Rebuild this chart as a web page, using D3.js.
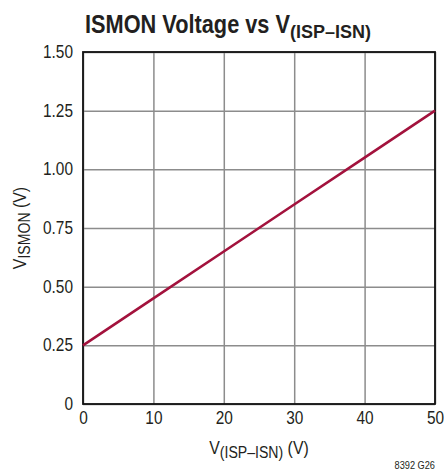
<!DOCTYPE html>
<html>
<head>
<meta charset="utf-8">
<script src="https://cdn.jsdelivr.net/npm/d3@7"></script>
<style>
  body { margin: 0; background: #fff; }
  svg { display: block; font-family: "Liberation Sans", Arial, sans-serif; }
  .tick text { fill: #231f20; }
</style>
</head>
<body>
<svg id="chart" width="444" height="472"></svg>
<script>
// V(ISP-ISN) in volts vs ISMON voltage
var vDiff = [0, 10, 20, 30, 40, 50],
    vIsmon = [0.25, 0.45, 0.65, 0.85, 1.05, 1.25],
    xTicks = [0, 10, 20, 30, 40, 50],
    yTicks = [0, 0.25, 0.5, 0.75, 1.0, 1.25, 1.5];

var svg = d3.select('#chart'),
    margin = {top: 52, right: 9, bottom: 68, left: 83},
    width = 444 - margin.left - margin.right,
    height = 472 - margin.top - margin.bottom,
    g = svg.append('g').attr('transform', 'translate(' + margin.left + ',' + margin.top + ')');

// squeeze text sideways a bit, the original uses a narrow face
function condense(sel, k) {
    sel.each(function () {
        var len = this.getComputedTextLength();
        d3.select(this).attr('textLength', len * k).attr('lengthAdjust', 'spacingAndGlyphs');
    });
}

var x = d3.scaleLinear().domain([0, 50]).range([0, width]),
    y = d3.scaleLinear().domain([0, 1.5]).range([height, 0]);

// grid lines come from the axes themselves
var xAxis = g.append('g')
    .attr('transform', 'translate(0,' + height + ')')
    .call(d3.axisBottom(x).tickValues(xTicks).tickSize(-height).tickPadding(8)
        .tickFormat(d3.format('d')));

var yAxis = g.append('g')
    .call(d3.axisLeft(y).tickValues(yTicks).tickSize(-width).tickPadding(10)
        .tickFormat(function (d) { return d === 0 ? '0' : d3.format('.2f')(d); }));

[xAxis, yAxis].forEach(function (a) {
    a.select('.domain').remove();
    a.selectAll('.tick line').attr('stroke', '#8c8c8c').attr('stroke-width', 1.5);
    a.selectAll('.tick text').attr('font-size', 17.5).attr('font-family', null);
    condense(a.selectAll('.tick text'), 0.88);
});

g.append('rect')
    .attr('width', width)
    .attr('height', height)
    .attr('fill', 'none')
    .attr('stroke', '#111')
    .attr('stroke-width', 1.8);

g.append('path')
    .datum(d3.zip(vDiff, vIsmon))
    .attr('fill', 'none')
    .attr('stroke', '#a3123d')
    .attr('stroke-width', 2.6)
    .attr('d', d3.line().x(function (d) { return x(d[0]); }).y(function (d) { return y(d[1]); }));

// title
var title = svg.append('text')
    .attr('x', 85)
    .attr('y', 33)
    .attr('font-weight', 'bold')
    .attr('font-size', 26)
    .attr('fill', '#231f20');
title.append('tspan').text('ISMON Voltage vs V')
    .attr('textLength', 205).attr('lengthAdjust', 'spacingAndGlyphs');
title.append('tspan').attr('font-size', 18).attr('dy', 5).text('(ISP–ISN)')
    .attr('textLength', 81).attr('lengthAdjust', 'spacingAndGlyphs');

// x axis title
var xt = svg.append('text')
    .attr('x', margin.left + width / 2)
    .attr('y', 454)
    .attr('text-anchor', 'middle')
    .attr('font-size', 18)
    .attr('fill', '#231f20');
xt.append('tspan').text('V');
xt.append('tspan').attr('font-size', 16).attr('dy', 4).text('(ISP–ISN)');
xt.append('tspan').attr('dy', -4).text(' (V)');
condense(xt.selectAll('tspan'), 0.88);

// y axis title
var yt = svg.append('text')
    .attr('transform', 'translate(26,' + (margin.top + height / 2) + ') rotate(-90)')
    .attr('text-anchor', 'middle')
    .attr('font-size', 18)
    .attr('fill', '#231f20');
yt.append('tspan').text('V');
yt.append('tspan').attr('font-size', 16).attr('dy', 4).text('ISMON');
yt.append('tspan').attr('dy', -4).text(' (V)');
condense(yt.selectAll('tspan'), 0.88);

var note = svg.append('text')
    .attr('x', 435)
    .attr('y', 469)
    .attr('text-anchor', 'end')
    .attr('font-size', 10)
    .attr('fill', '#231f20')
    .text('8392 G26');
condense(note, 0.92);
</script>
</body>
</html>
